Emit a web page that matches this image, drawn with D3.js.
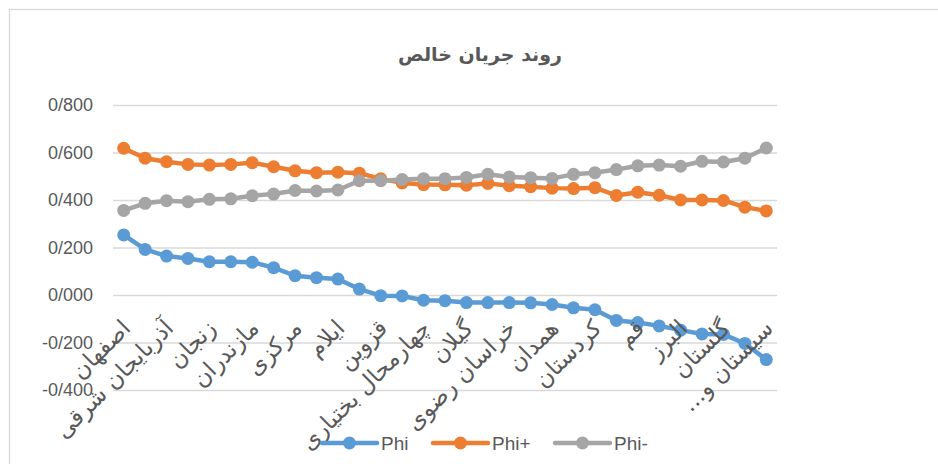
<!DOCTYPE html>
<html>
<head>
<meta charset="utf-8">
<script src="https://cdn.jsdelivr.net/npm/d3@7"></script>
<style>
  body { margin: 0; background: #fff; }
  svg { display: block; }
  .persian { font-family: "DejaVu Sans", sans-serif; }
</style>
</head>
<body>
<div id="chart"></div>
<script>
// data
// ----------------------------------------

var provinces = ["اصفهان", "تهران", "آذربایجان شرقی", "فارس", "زنجان", "یزد", "مازندران", "سمنان",
  "مرکزی", "خوزستان", "ایلام", "کرمان", "قزوین", "اردبیل", "چهارمحال بختیاری", "آذربایجان غربی",
  "گیلان", "بوشهر", "خراسان رضوی", "لرستان", "همدان", "کرمانشاه", "کردستان", "خراسان جنوبی",
  "قم", "هرمزگان", "البرز", "خراسان شمالی", "گلستان", "کهگیلویه و بویراحمد", "سیستان و بلوچستان"];

var phi = [0.253, 0.192, 0.164, 0.154, 0.140, 0.140, 0.138, 0.115, 0.081, 0.073, 0.067, 0.025, -0.003,
  -0.004, -0.022, -0.024, -0.032, -0.032, -0.032, -0.033, -0.040, -0.054, -0.062, -0.107, -0.116,
  -0.130, -0.148, -0.164, -0.166, -0.204, -0.272];

var phiPlus = [0.618, 0.576, 0.561, 0.550, 0.547, 0.550, 0.557, 0.540, 0.523, 0.515, 0.517, 0.513, 0.489,
  0.472, 0.465, 0.464, 0.462, 0.470, 0.460, 0.456, 0.450, 0.448, 0.452, 0.419, 0.433, 0.420, 0.400,
  0.400, 0.398, 0.370, 0.354];

var phiMinus = [0.356, 0.386, 0.397, 0.393, 0.403, 0.405, 0.418, 0.425, 0.440, 0.438, 0.442, 0.481, 0.481,
  0.486, 0.490, 0.490, 0.495, 0.508, 0.497, 0.494, 0.491, 0.508, 0.515, 0.528, 0.544, 0.547, 0.542,
  0.563, 0.560, 0.576, 0.619];

var seriesNames = ["Phi", "Phi+", "Phi-"];
var yTicks = [-0.4, -0.2, 0, 0.2, 0.4, 0.6, 0.8];
var title = "روند جریان خالص";

// main variables
// ----------------------------------------

var width = 938, height = 464;
var plot_left = 113, plot_right = 777, plot_top = 105, plot_bottom = 390;
var colors = ["#5b9bd5", "#ed7d31", "#a5a5a5"];
var textColor = "#595959";

var series = [phi, phiPlus, phiMinus].map(function(vals, i) {
  return { name: seriesNames[i], color: colors[i], values: vals };
});

var svg = d3.select("#chart")
  .append("svg")
  .attr("width", width)
  .attr("height", height);

// chart frame
svg.append("rect")
  .attr("x", 9.5).attr("y", 9.5)
  .attr("width", 960).attr("height", 480)
  .attr("fill", "#fff")
  .attr("stroke", "#d9d9d9")
  .attr("stroke-width", 1.3);

svg.append("text")
  .attr("class", "persian")
  .attr("x", 480).attr("y", 61)
  .attr("text-anchor", "middle")
  .attr("font-size", 19)
  .attr("font-weight", "bold")
  .attr("fill", textColor)
  .text(title);

var x = d3.scalePoint()
  .domain(provinces)
  .range([plot_left, plot_right])
  .padding(0.5);

var y = d3.scaleLinear()
  .domain([-0.4, 0.8])
  .range([plot_bottom, plot_top]);

var fmt = d3.format(".3f");

// y axis + gridlines
var yAxis = svg.append("g")
  .attr("transform", "translate(" + plot_left + ",0)")
  .call(d3.axisLeft(y)
    .tickValues(yTicks)
    .tickSize(-(plot_right - plot_left))
    .tickPadding(20)
    .tickFormat(function(d) { return fmt(d).replace(".", "/").replace("\u2212", "-"); }));

yAxis.select(".domain").remove();
yAxis.selectAll(".tick line")
  .attr("stroke", "#d9d9d9")
  .attr("stroke-width", 1.3);
yAxis.selectAll(".tick text")
  .attr("fill", textColor)
  .attr("font-family", "Liberation Sans, Arial, sans-serif")
  .attr("font-size", 18);

// lines + markers
var line = d3.line()
  .x(function(d, i) { return x(provinces[i]); })
  .y(function(d) { return y(d); });

var sg = svg.selectAll(".series")
  .data(series)
  .enter().append("g")
  .attr("class", "series");

sg.append("path")
  .attr("d", function(s) { return line(s.values); })
  .attr("fill", "none")
  .attr("stroke", function(s) { return s.color; })
  .attr("stroke-width", 4.5)
  .attr("stroke-linejoin", "round");

sg.selectAll("circle")
  .data(function(s) { return s.values.map(function(v, i) { return { v: v, i: i, c: s.color }; }); })
  .enter().append("circle")
  .attr("cx", function(d) { return x(provinces[d.i]); })
  .attr("cy", function(d) { return y(d.v); })
  .attr("r", 6.5)
  .attr("fill", function(d) { return d.c; });

// x axis labels (every other category), drawn over the lines
var xAxis = svg.append("g")
  .attr("transform", "translate(0," + y(0) + ")")
  .call(d3.axisBottom(x)
    .tickSize(0)
    .tickFormat(function(d, i) {
      if (i % 2) return "";
      return d.length > 16 ? d.slice(0, 8) + "...\u200F" : d;
    }));

xAxis.select(".domain").remove();
xAxis.selectAll(".tick text")
  .attr("class", "persian")
  .attr("fill", textColor)
  .attr("font-size", 23)
  .attr("x", 0).attr("y", 0).attr("dy", null)
  .attr("text-anchor", "end")
  .attr("dominant-baseline", "middle")
  .attr("transform", "translate(3,30) rotate(-45)");

// legend
var legendX = [322, 433, 555];
var lg = svg.selectAll(".legend")
  .data(series)
  .enter().append("g")
  .attr("class", "legend")
  .attr("transform", function(s, i) { return "translate(" + legendX[i] + ",443)"; });

lg.append("line")
  .attr("x1", 0).attr("x2", 55)
  .attr("stroke", function(s) { return s.color; })
  .attr("stroke-width", 4.5)
  .attr("stroke-linecap", "round");

lg.append("circle")
  .attr("cx", 27.5)
  .attr("r", 6.5)
  .attr("fill", function(s) { return s.color; });

lg.append("text")
  .attr("x", 59)
  .attr("dy", "0.35em")
  .attr("fill", textColor)
  .attr("font-family", "Liberation Sans, Arial, sans-serif")
  .attr("font-size", 19)
  .text(function(s) { return s.name; });
</script>
</body>
</html>
